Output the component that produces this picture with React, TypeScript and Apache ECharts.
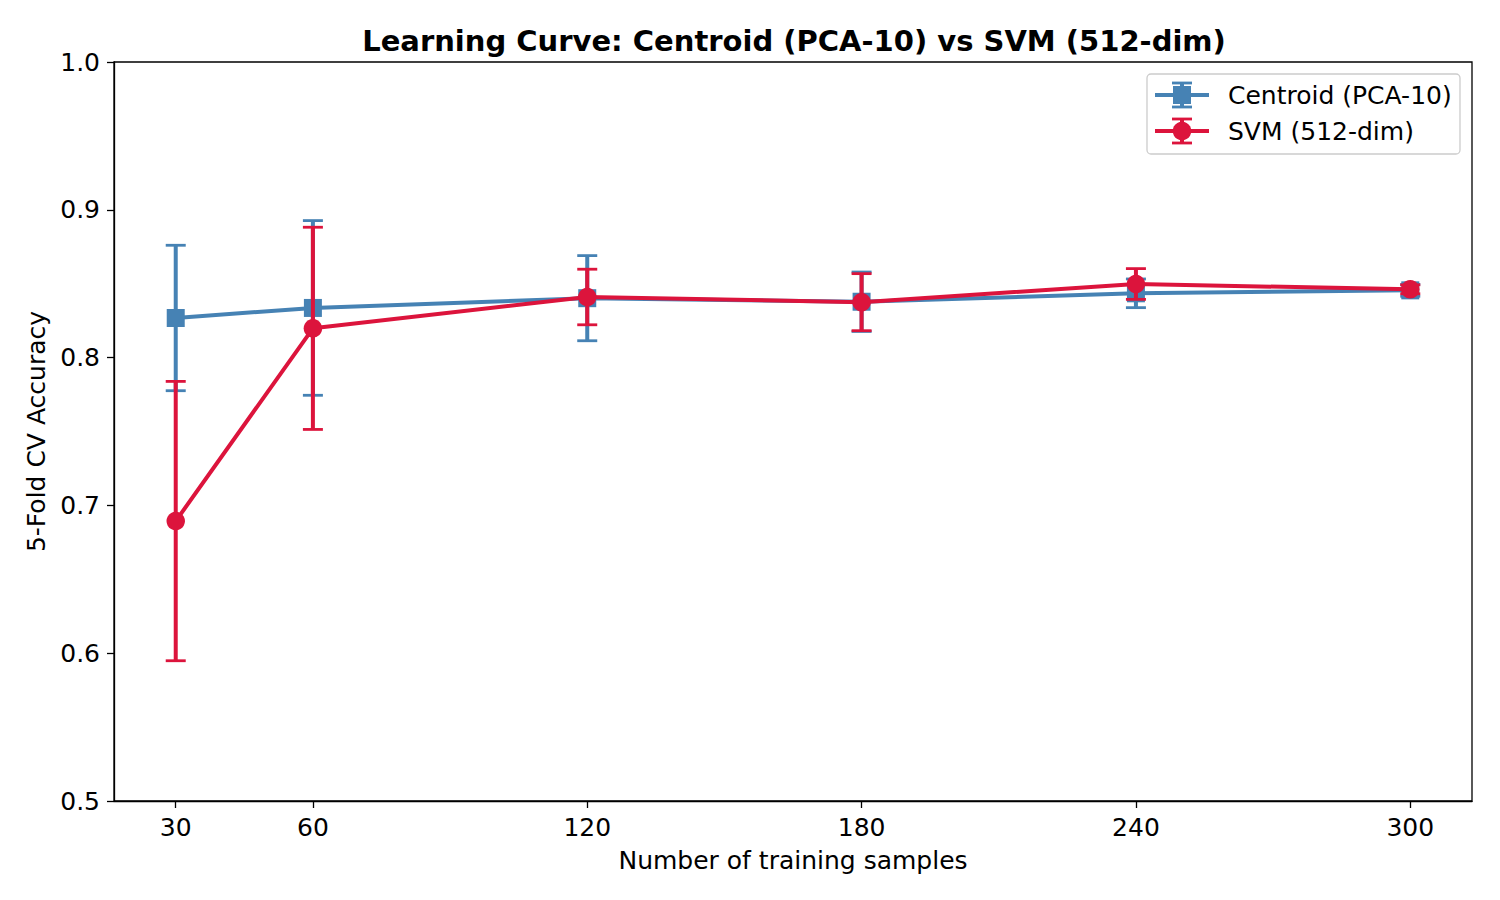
import React, { useEffect, useRef } from "react";
import * as echarts from "echarts";

const samples = [30, 60, 120, 180, 240, 300];
const centroidMean = [0.8268, 0.8336, 0.8402, 0.8378, 0.8435, 0.8455];
const centroidStd = [0.0492, 0.0591, 0.0288, 0.0201, 0.0097, 0.004];
const svmMean = [0.6894, 0.8198, 0.8410, 0.8375, 0.8498, 0.8462];
const svmStd = [0.0945, 0.0684, 0.0188, 0.0193, 0.0104, 0.003];
const xTicks = [30, 60, 120, 180, 240, 300];

const BLUE = "#4682B4";
const RED = "#DC143C";
const FONT = "DejaVu Sans";

function errSeries(mean: number[], std: number[], color: string, z: number) {
  return {
    type: "custom",
    z,
    silent: true,
    data: samples.map((s, i) => [s, mean[i] - std[i], mean[i] + std[i]]),
    renderItem: (params: any, api: any) => {
      const lo = api.coord([api.value(0), api.value(1)]);
      const hi = api.coord([api.value(0), api.value(2)]);
      const cw = 10;
      const st = { stroke: color, lineWidth: 4 };
      const cs = { stroke: color, lineWidth: 2.8 };
      return {
        type: "group",
        children: [
          { type: "line", shape: { x1: lo[0], y1: lo[1], x2: hi[0], y2: hi[1] }, style: st },
          { type: "line", shape: { x1: lo[0] - cw, y1: lo[1], x2: lo[0] + cw, y2: lo[1] }, style: cs },
          { type: "line", shape: { x1: hi[0] - cw, y1: hi[1], x2: hi[0] + cw, y2: hi[1] }, style: cs },
        ],
      };
    },
  };
}

function legendRow(y: number, color: string, label: string, square: boolean) {
  const cx = 1182;
  const marker = square
    ? { type: "rect", shape: { x: cx - 9, y: y - 9, width: 18, height: 18 }, style: { fill: color } }
    : { type: "circle", shape: { cx, cy: y, r: 9.3 }, style: { fill: color } };
  return [
    { type: "line", shape: { x1: 1155, y1: y, x2: 1209, y2: y }, style: { stroke: color, lineWidth: 4 } },
    { type: "line", shape: { x1: cx, y1: y - 12, x2: cx, y2: y + 12 }, style: { stroke: color, lineWidth: 4 } },
    { type: "line", shape: { x1: cx - 10, y1: y - 12, x2: cx + 10, y2: y - 12 }, style: { stroke: color, lineWidth: 2.8 } },
    { type: "line", shape: { x1: cx - 10, y1: y + 12, x2: cx + 10, y2: y + 12 }, style: { stroke: color, lineWidth: 2.8 } },
    marker,
    {
      type: "text",
      style: { x: 1228, y, text: label, fill: "#000", font: `25px "${FONT}"`, textVerticalAlign: "middle" },
    },
  ];
}

export default function App() {
  const ref = useRef<HTMLDivElement>(null);
  useEffect(() => {
    if (!ref.current) return;
    document.body.style.margin = "0";
    const chart = echarts.init(ref.current, null, { renderer: "svg" });
    chart.setOption({
      animation: false,
      backgroundColor: "#fff",
      textStyle: { fontFamily: FONT },
      title: {
        text: "Learning Curve: Centroid (PCA-10) vs SVM (512-dim)",
        left: 789,
        textAlign: "center",
        top: 21,
        textStyle: { fontFamily: FONT, fontSize: 29, fontWeight: "bold", color: "#000" },
      },
      grid: {
        left: 114,
        top: 62,
        right: 28,
        bottom: 99,
        show: true,
        borderColor: "#000",
        borderWidth: 1.3,
        backgroundColor: "transparent",
      },
      xAxis: {
        type: "value",
        min: 16.5,
        max: 313.5,
        name: "Number of training samples",
        nameLocation: "middle",
        nameGap: 47,
        nameTextStyle: { fontFamily: FONT, fontSize: 25, color: "#000" },
        axisLine: { show: true, onZero: false, lineStyle: { color: "#000", width: 1.3 } },
        axisTick: { show: true, length: 7, customValues: xTicks, lineStyle: { color: "#000", width: 1.3 } },
        axisLabel: { customValues: xTicks, fontFamily: FONT, fontSize: 25, color: "#000", margin: 14 },
        splitLine: { show: false },
      },
      yAxis: {
        type: "value",
        min: 0.5,
        max: 1.0,
        interval: 0.1,
        name: "5-Fold CV Accuracy",
        nameLocation: "middle",
        nameGap: 63,
        nameTextStyle: { fontFamily: FONT, fontSize: 25, color: "#000" },
        axisLine: { show: true, lineStyle: { color: "#000", width: 1.3 } },
        axisTick: { show: true, length: 7, lineStyle: { color: "#000", width: 1.3 } },
        axisLabel: {
          fontFamily: FONT,
          fontSize: 25,
          color: "#000",
          margin: 14,
          formatter: (v: number) => v.toFixed(1),
        },
        splitLine: { show: false },
      },
      series: [
        errSeries(centroidMean, centroidStd, BLUE, 2),
        {
          type: "line",
          name: "Centroid (PCA-10)",
          z: 3,
          data: samples.map((s, i) => [s, centroidMean[i]]),
          symbol: "rect",
          symbolSize: 18,
          lineStyle: { color: BLUE, width: 4 },
          itemStyle: { color: BLUE },
          showAllSymbol: true,
        },
        errSeries(svmMean, svmStd, RED, 4),
        {
          type: "line",
          name: "SVM (512-dim)",
          z: 5,
          data: samples.map((s, i) => [s, svmMean[i]]),
          symbol: "circle",
          symbolSize: 18.5,
          lineStyle: { color: RED, width: 4 },
          itemStyle: { color: RED },
          showAllSymbol: true,
        },
      ],
      graphic: [
        {
          type: "rect",
          shape: { x: 1147, y: 74, width: 313, height: 80, r: 4 },
          style: { fill: "rgba(255,255,255,0.8)", stroke: "#cccccc", lineWidth: 1.3 },
          z: 10,
        },
        ...legendRow(95, BLUE, "Centroid (PCA-10)", true).map((e) => ({ ...e, z: 11 })),
        ...legendRow(131, RED, "SVM (512-dim)", false).map((e) => ({ ...e, z: 11 })),
      ],
    });
    return () => chart.dispose();
  }, []);
  return <div ref={ref} style={{ width: 1500, height: 900, position: "absolute", left: 0, top: 0 }} />;
}
